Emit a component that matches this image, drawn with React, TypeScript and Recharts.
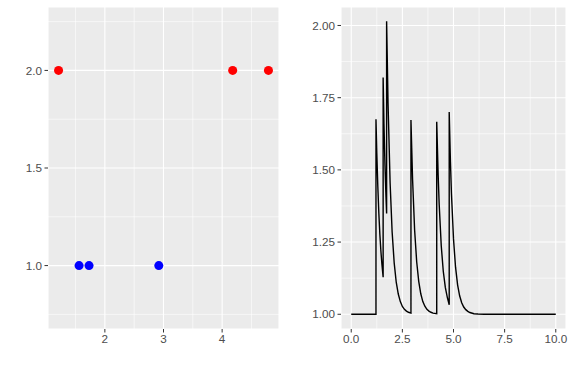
import { ScatterChart, Scatter, LineChart, Line, XAxis, YAxis, ZAxis, CartesianGrid, ReferenceLine } from 'recharts';

// left panel: event times, split by group
const redX = [1.21, 4.18, 4.79];
const redY = [2, 2, 2];
const blueX = [1.56, 1.73, 2.92];
const blueY = [1, 1, 1];

// right panel: response curve
const curveX = [
  0, 1.21, 1.21, 1.25, 1.3, 1.35, 1.4, 1.45, 1.5, 1.56,
  1.56, 1.6, 1.65, 1.7, 1.73,
  1.73, 1.8, 1.9, 2.0, 2.1, 2.2, 2.3, 2.4, 2.5, 2.6, 2.7, 2.8, 2.92,
  2.92, 3.0, 3.1, 3.2, 3.3, 3.4, 3.5, 3.6, 3.7, 3.8, 3.9, 4.0, 4.18,
  4.18, 4.25, 4.3, 4.4, 4.5, 4.6, 4.7, 4.79,
  4.79, 4.85, 4.9, 5.0, 5.1, 5.2, 5.3, 5.4, 5.5, 5.6, 5.7, 5.8, 6.0, 6.2, 6.5, 10,
];
const curveY = [
  1, 1, 1.675, 1.559, 1.442, 1.35, 1.276, 1.219, 1.173, 1.128,
  1.82, 1.66, 1.515, 1.405, 1.349,
  2.015, 1.731, 1.456, 1.285, 1.178, 1.111, 1.07, 1.044, 1.027, 1.017, 1.011, 1.007, 1.004,
  1.673, 1.466, 1.291, 1.182, 1.114, 1.071, 1.044, 1.028, 1.017, 1.011, 1.007, 1.004, 1.002,
  1.667, 1.482, 1.381, 1.238, 1.149, 1.093, 1.058, 1.033,
  1.7, 1.528, 1.417, 1.261, 1.163, 1.102, 1.064, 1.04, 1.025, 1.016, 1.01, 1.006, 1.002, 1.001, 1, 1,
];

const leftXTicks = [2, 3, 4];
const leftYTicks = [1, 1.5, 2];
const leftXMinor = [1.5, 2.5, 3.5, 4.5];
const leftYMinor = [0.75, 1.25, 1.75, 2.25];

const rightXTicks = [0, 2.5, 5, 7.5, 10];
const rightYTicks = [1, 1.25, 1.5, 1.75, 2];
const rightXMinor = [1.25, 3.75, 6.25, 8.75];
const rightYMinor = [1.125, 1.375, 1.625, 1.875];

const redPts = redX.map((x, i) => ({ x, y: redY[i] }));
const bluePts = blueX.map((x, i) => ({ x, y: blueY[i] }));
const curve = curveX.map((x, i) => ({ x, y: curveY[i] }));

const tick = { fill: '#4D4D4D', fontSize: 11.7, fontFamily: '"Liberation Sans", Arial, sans-serif' };
const tickLine = { stroke: '#333333', strokeWidth: 1 };
const minor = { stroke: '#FFFFFF', strokeWidth: 0.6 };

export default function App() {
  return (
    <div style={{ position: 'absolute', left: 0, top: 0, width: 573, height: 370, background: '#fff' }}>
      <div style={{ position: 'absolute', left: 0, top: 0 }}>
        <ScatterChart width={286} height={370} margin={{ top: 7, right: 7, bottom: 0, left: 0 }}>
          <CartesianGrid stroke="#FFFFFF" strokeWidth={1.1} fill="#EBEBEB" fillOpacity={1} />
          {leftXMinor.map((v) => <ReferenceLine key={`lx${v}`} x={v} {...minor} />)}
          {leftYMinor.map((v) => <ReferenceLine key={`ly${v}`} y={v} {...minor} />)}
          <XAxis
            type="number" dataKey="x" domain={[1.03, 4.97]} ticks={leftXTicks}
            allowDataOverflow axisLine={false} tickLine={tickLine} tickSize={3.5} tickMargin={2.5}
            height={41} tick={tick} interval={0}
          />
          <YAxis
            type="number" dataKey="y" domain={[0.675, 2.325]} ticks={leftYTicks}
            allowDataOverflow axisLine={false} tickLine={tickLine} tickSize={3.5} tickMargin={2.5}
            width={48} tick={tick} interval={0} tickFormatter={(v: number) => v.toFixed(1)}
          />
          <ZAxis range={[48, 48]} />
          <Scatter data={redPts} fill="#FF0000" isAnimationActive={false} />
          <Scatter data={bluePts} fill="#0000FF" isAnimationActive={false} />
        </ScatterChart>
      </div>
      <div style={{ position: 'absolute', left: 290, top: 0 }}>
        <LineChart width={283} height={370} data={curve} margin={{ top: 7, right: 7, bottom: 0, left: 0 }}>
          <CartesianGrid stroke="#FFFFFF" strokeWidth={1.1} fill="#EBEBEB" fillOpacity={1} />
          {rightXMinor.map((v) => <ReferenceLine key={`rx${v}`} x={v} {...minor} />)}
          {rightYMinor.map((v) => <ReferenceLine key={`ry${v}`} y={v} {...minor} />)}
          <XAxis
            type="number" dataKey="x" domain={[-0.5, 10.5]} ticks={rightXTicks}
            allowDataOverflow axisLine={false} tickLine={tickLine} tickSize={3.5} tickMargin={2.5}
            height={41} tick={tick} interval={0} tickFormatter={(v: number) => v.toFixed(1)}
          />
          <YAxis
            type="number" domain={[0.949, 2.064]} ticks={rightYTicks}
            allowDataOverflow axisLine={false} tickLine={tickLine} tickSize={3.5} tickMargin={2.5}
            width={51} tick={tick} interval={0} tickFormatter={(v: number) => v.toFixed(2)}
          />
          <Line
            type="linear" dataKey="y" stroke="#000000" strokeWidth={1.4}
            dot={false} activeDot={false} isAnimationActive={false}
          />
        </LineChart>
      </div>
    </div>
  );
}
